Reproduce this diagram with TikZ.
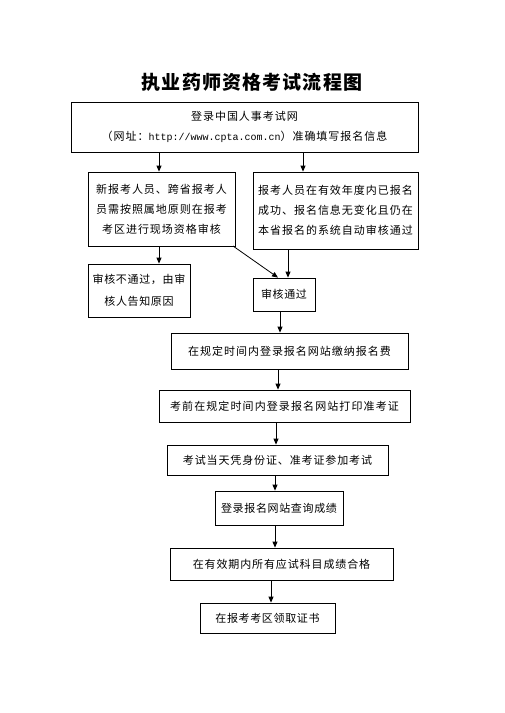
\documentclass[tikz,border=0pt]{standalone}
\usepackage{fontspec}
\usetikzlibrary{arrows.meta}
\newfontfamily\cjk{Noto Sans CJK SC}
\newfontfamily\monof{Liberation Mono}
\newcommand\LS[1]{\addfontfeature{LetterSpace=#1}}
\tikzset{
  box/.style={draw, line width=0.8pt, inner sep=0pt, align=center,
    font=\cjk\fontsize{11}{20}\selectfont},
  arr/.style={line width=0.8pt, -{Triangle[length=6pt,width=5pt]}}
}
\begin{document}
\begin{tikzpicture}[x=1pt,y=-1pt]
\useasboundingbox (0,0) rectangle (505,713);
\fill[white] (0,0) rectangle (505,713);
\node[font=\cjk\bfseries\fontsize{19}{22}\selectfont] (title) at (252,82) {\LS{6}执业药师资格考试流程图};
\node[box, minimum width=347pt, minimum height=50pt] (b1) at (244.5,127)
  {\LS{9}登录中国人事考试网\\{\LS{9}（网址：}{\monof\fontsize{10}{20}\selectfont http://www.cpta.com.cn}{\LS{9}）准确填写报名信息}};
\node[box, minimum width=147pt, minimum height=74pt] (b2) at (161.5,209)
  {\LS{9}新报考人员、跨省报考人\\\LS{9}员需按照属地原则在报考\\\LS{9}考区进行现场资格审核};
\node[box, minimum width=165pt, minimum height=77pt] (b3) at (335.5,210.5)
  {\LS{9}报考人员在有效年度内已报名\\\LS{9}成功、报名信息无变化且仍在\\\LS{9}本省报名的系统自动审核通过};
\node[box, minimum width=102pt, minimum height=53pt, font=\cjk\fontsize{11}{22}\selectfont] (b4) at (139,290.5)
  {\LS{6}审核不通过，由审\\\LS{6}核人告知原因};
\node[box, minimum width=62pt, minimum height=33pt] (b5) at (284,294.5) {\LS{6}审核通过};
\node[box, minimum width=237pt, minimum height=36pt] (b6) at (289.5,351) {\LS{9}在规定时间内登录报名网站缴纳报名费};
\node[box, minimum width=251pt, minimum height=32pt] (b7) at (284.5,406) {\LS{10}考前在规定时间内登录报名网站打印准考证};
\node[box, minimum width=221pt, minimum height=30pt] (b8) at (277.5,460) {\LS{8}考试当天凭身份证、准考证参加考试};
\node[box, minimum width=128pt, minimum height=34pt] (b9) at (279,508) {\LS{6}登录报名网站查询成绩};
\node[box, minimum width=223pt, minimum height=32pt] (b10) at (281.5,564) {\LS{8}在有效期内所有应试科目成绩合格};
\node[box, minimum width=135pt, minimum height=30pt] (b11) at (267.5,618) {\LS{6}在报考考区领取证书};
\coordinate (d1) at (233,246);
\draw[arr] (159,0 |- b1.south) -- (159,0 |- b2.north);
\draw[arr] (303,0 |- b1.south) -- (303,0 |- b3.north);
\draw[arr] (159,0 |- b2.south) -- (159,0 |- b4.north);
\draw[arr] (d1) -- (278,0 |- b5.north);
\draw[arr] (288,0 |- b3.south) -- (288,0 |- b5.north);
\draw[arr] (280,0 |- b5.south) -- (280,0 |- b6.north);
\draw[arr] (278,0 |- b6.south) -- (278,0 |- b7.north);
\draw[arr] (276,0 |- b7.south) -- (276,0 |- b8.north);
\draw[arr] (275,0 |- b8.south) -- (275,0 |- b9.north);
\draw[arr] (275,0 |- b9.south) -- (275,0 |- b10.north);
\draw[arr] (271,0 |- b10.south) -- (271,0 |- b11.north);
\end{tikzpicture}
\end{document}
